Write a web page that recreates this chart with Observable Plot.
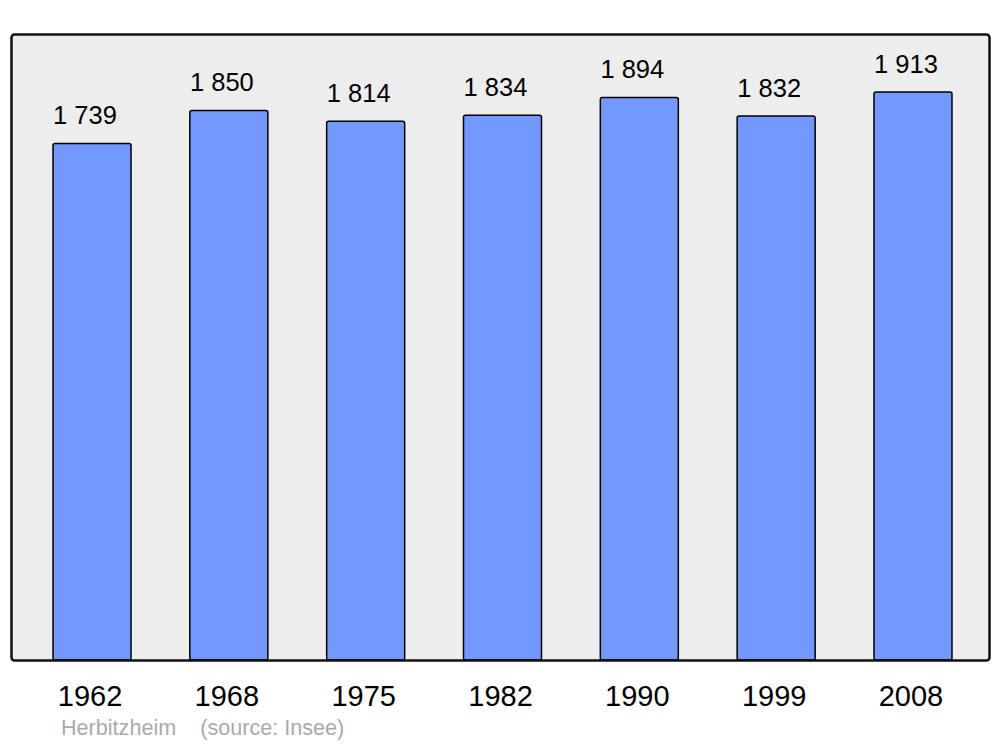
<!DOCTYPE html>
<html>
<head>
<meta charset="utf-8">
<script src="https://cdn.jsdelivr.net/npm/d3@7"></script>
<script src="https://cdn.jsdelivr.net/npm/@observablehq/plot@0.6"></script>
<style>
  body { margin: 0; background: #fff; font-family: "Liberation Sans", Arial, sans-serif; }
  #wrap { position: relative; width: 1000px; height: 747px; }
  #caption { position: absolute; left: 61px; top: 715px; font-size: 21.6px; color: #aaaaaa; white-space: pre; }
</style>
</head>
<body>
<div id="wrap">
  <div id="chart"></div>
  <div id="caption">Herbitzheim    (source: Insee)</div>
</div>
<script>
const years = ["1962", "1968", "1975", "1982", "1990", "1999", "2008"];
const population = [1739, 1850, 1814, 1834, 1894, 1832, 1913];
const labels = ["1 739", "1 850", "1 814", "1 834", "1 894", "1 832", "1 913"];

const data = years.map((y, i) => ({year: y, pop: population[i], label: labels[i]}));

const chart = Plot.plot({
  width: 1000,
  height: 747,
  marginTop: 34,
  marginBottom: 87,
  marginLeft: 11,
  marginRight: 11,
  style: {fontFamily: "'Liberation Sans', Arial, sans-serif", background: "#fff"},
  x: {domain: years, round: false, paddingInner: 0.43, paddingOuter: 0.215, insetLeft: 12.6, insetRight: 7.6, label: null},
  y: {domain: [0, 2108], axis: null},
  marks: [
    Plot.frame({fill: "#ededed", stroke: "none"}),
    Plot.barY(data, {x: "year", y: "pop", fill: "#7399ff", stroke: "#000", strokeWidth: 1.5, rx: 2}),
    Plot.frame({fill: "none", stroke: "#111", strokeWidth: 2.5, rx: 3}),
    Plot.text(data, {x: "year", y: "pop", text: "label", dy: -28, dx: -7.5, fontSize: 25.5, fill: "#000"}),
    Plot.axisX({tickSize: 0, tickPadding: 25, fontSize: 29, color: "#000", label: null, dx: -2.5})
  ]
});
document.getElementById("chart").appendChild(chart);
</script>
</body>
</html>
